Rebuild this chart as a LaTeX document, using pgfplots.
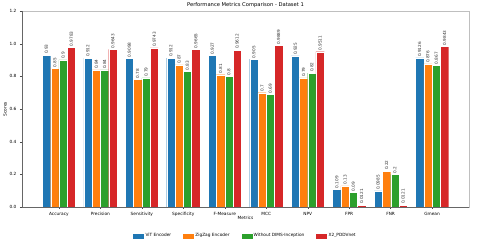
\documentclass[border=0pt]{standalone}
\usepackage{fontspec}
\setmainfont{DejaVu Sans}
\usepackage{pgfplots}
\pgfplotsset{compat=1.18}
\definecolor{tabblue}{HTML}{1F77B4}
\definecolor{taborange}{HTML}{FF7F0E}
\definecolor{tabgreen}{HTML}{2CA02C}
\definecolor{tabred}{HTML}{D62728}
\pgfplotsset{
  mybar/.style={fill=#1, draw=white, line width=0.2pt,
    area legend,
    legend image code/.code={\fill[#1] (0pt,-1.7pt) rectangle (10pt,1.7pt);}},
}
\begin{document}
\begin{tikzpicture}
\path[use as bounding box] (-22pt,-34pt) rectangle (458pt,207pt);
\begin{axis}[
  at={(0pt,0pt)}, anchor=south west,
  scale only axis, width=447pt, height=196pt,
  ybar, bar width=0.2, bar shift=0pt,
  xmin=-0.89, xmax=9.89, ymin=0, ymax=1.2,
  xtick={0,...,9},
  xticklabels={Accuracy,Precision,Sensitivity,Specificity,F-Measure,MCC,NPV,FPR,FNR,Gmean},
  ytick={0,0.2,...,1.2},
  yticklabel style={/pgf/number format/.cd, fixed, fixed zerofill, precision=1},
  /pgf/number format/assume math mode=true,
  tick label style={font=\fontsize{4.3}{5}\selectfont},
  tick style={black!70, line width=0.3pt},
  major tick length=2pt,
  tick align=outside, xtick pos=bottom, ytick pos=left,
  axis line style={black!25, line width=0.6pt},
  xlabel={Metrics}, ylabel={Scores},
  xlabel style={font=\fontsize{4.3}{5}\selectfont, at={(axis description cs:0.5,-0.056)}, anchor=center},
  ylabel style={font=\fontsize{4.3}{5}\selectfont, at={(axis description cs:-0.038,0.5)}, anchor=center},
  point meta=explicit symbolic,
  nodes near coords={\rotatebox{90}{\pgfplotspointmeta}},
  nodes near coords style={anchor=south, font=\fontsize{4.2}{5}\selectfont, inner sep=1pt, black!80},
  legend style={at={(0.5,-0.148)}, anchor=center, draw=none, fill=none,
    font=\fontsize{4.3}{5}\selectfont, legend columns=4,
    /tikz/every even column/.append style={column sep=10pt}},
  clip=false,
]
\addplot[mybar=tabblue] coordinates {
 (-0.3,0.93)[0.93] (0.7,0.912)[0.912] (1.7,0.9098)[0.9098] (2.7,0.912)[0.912] (3.7,0.927)[0.927]
 (4.7,0.905)[0.905] (5.7,0.925)[0.925] (6.7,0.109)[0.109] (7.7,0.0985)[0.0985] (8.7,0.9126)[0.9126]};
\addplot[mybar=taborange] coordinates {
 (-0.1,0.85)[0.85] (0.9,0.84)[0.84] (1.9,0.78)[0.78] (2.9,0.87)[0.87] (3.9,0.81)[0.81]
 (4.9,0.7)[0.7] (5.9,0.79)[0.79] (6.9,0.13)[0.13] (7.9,0.22)[0.22] (8.9,0.876)[0.876]};
\addplot[mybar=tabgreen] coordinates {
 (0.1,0.9)[0.9] (1.1,0.84)[0.84] (2.1,0.79)[0.79] (3.1,0.83)[0.83] (4.1,0.8)[0.8]
 (5.1,0.69)[0.69] (6.1,0.82)[0.82] (7.1,0.09)[0.09] (8.1,0.2)[0.2] (9.1,0.867)[0.867]};
\addplot[mybar=tabred] coordinates {
 (0.3,0.9783)[0.9783] (1.3,0.9643)[0.9643] (2.3,0.9743)[0.9743] (3.3,0.9665)[0.9665] (4.3,0.9612)[0.9612]
 (5.3,0.9889)[0.9889] (6.3,0.9511)[0.9511] (7.3,0.0121)[0.0121] (8.3,0.0121)[0.0121] (9.3,0.9843)[0.9843]};
\legend{ViT Encoder, ZigZag Encoder, Without DIMS-Inception, X2\_PDDVnet}
\draw[black!60, line width=0.5pt] (rel axis cs:0,1) -- (rel axis cs:0,0) -- (rel axis cs:1,0);
\end{axis}
\node[font=\fontsize{5.2}{6}\selectfont, anchor=center] at (223.5pt,202pt) {Performance Metrics Comparison - Dataset 1};
\end{tikzpicture}
\end{document}
